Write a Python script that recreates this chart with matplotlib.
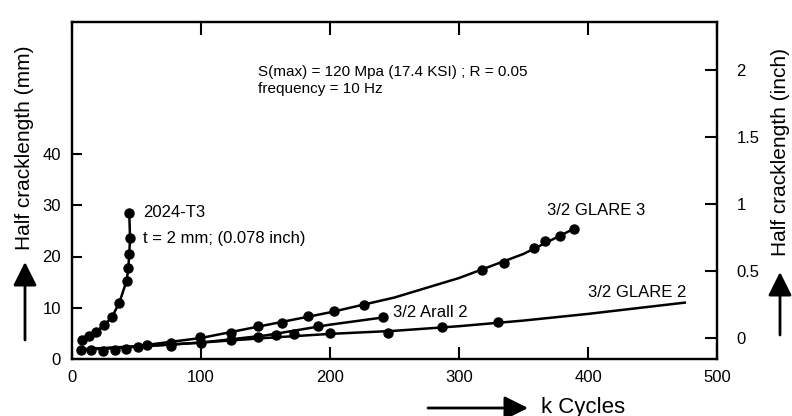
import numpy as np
import matplotlib
matplotlib.use("Agg")
import matplotlib.pyplot as plt

# measured points (k cycles, half crack length mm)
t3_x = [7.5, 13.4, 18.6, 24.8, 30.8, 36.7, 42.4, 43.6, 44.4, 45.0, 44.4]
t3_y = [3.7, 4.5, 5.3, 6.6, 8.1, 11.0, 15.3, 17.7, 20.5, 23.6, 28.4]

g3_x = [7, 15, 24, 33, 42, 51, 58, 77, 99, 123, 144, 163, 183, 203, 226, 318, 335, 358, 367, 378, 389]
g3_y = [1.8, 1.8, 1.6, 1.8, 1.9, 2.4, 2.7, 3.2, 4.2, 5.1, 6.4, 7.1, 8.4, 9.4, 10.5, 17.4, 18.8, 21.7, 23.0, 24.0, 25.4]

ar_x = [77, 100, 123, 144, 158, 191, 241]
ar_y = [2.5, 3.1, 3.8, 4.2, 4.7, 6.4, 8.1]

g2_x = [172, 200, 245, 287, 330]
g2_y = [4.9, 5.0, 5.1, 6.3, 7.2]

# fitted curves as drawn in the picture
g3_cx = [7, 50, 100, 150, 200, 250, 300, 350, 389]
g3_cy = [1.9, 2.5, 4.1, 6.6, 9.1, 12.0, 15.8, 20.5, 25.4]
ar_cx = [7, 50, 100, 150, 200, 241]
ar_cy = [1.8, 2.4, 3.2, 4.6, 6.7, 8.1]
g2_cx = [7, 50, 100, 150, 200, 250, 300, 350, 400, 475]
g2_cy = [1.8, 2.4, 3.2, 4.1, 4.9, 5.5, 6.4, 7.5, 8.8, 11.0]

x_ticks = [0, 100, 200, 300, 400, 500]
mm_ticks = [0, 10, 20, 30, 40]
inch_ticks = [0, 0.5, 1, 1.5, 2]
inch_labels = ["0", "0.5", "1", "1.5", "2"]

narrow = ["Liberation Sans Narrow", "Liberation Sans", "DejaVu Sans"]
plt.rcParams["font.family"] = ["Liberation Sans", "DejaVu Sans"]

fig = plt.figure(figsize=(7.92, 4.16), dpi=100)
ax = fig.add_axes([72 / 792, 1 - 359 / 416, (717 - 72) / 792, (359 - 22) / 416])

ax.plot(g3_cx, g3_cy, color="k", lw=1.8)
ax.plot(ar_cx, ar_cy, color="k", lw=1.8)
ax.plot(g2_cx, g2_cy, color="k", lw=1.8)
ax.plot(t3_x, t3_y, color="k", lw=1.8)
for xs, ys in [(t3_x, t3_y), (g3_x, g3_y), (ar_x, ar_y), (g2_x, g2_y)]:
    ax.plot(xs, ys, "o", color="k", ms=6.5, ls="none")

ax.set_xlim(0, 500)
ax.set_ylim(0, (359 - 22) / 5.125)
ax.set_xticks(x_ticks)
ax.set_yticks(mm_ticks)
ax.tick_params(axis="x", direction="in", length=9, width=1.5, top=True, pad=8)
ax.tick_params(axis="y", direction="in", length=7, width=1.5, pad=8)
for lab in ax.get_xticklabels() + ax.get_yticklabels():
    lab.set_family(narrow)
    lab.set_fontsize(12)
for s in ax.spines.values():
    s.set_linewidth(1.6)

ax2 = ax.twinx()
ax2.set_ylim(-(359 - 338) / 134, (338 - 22) / 134)
ax2.set_yticks(inch_ticks)
ax2.set_yticklabels(inch_labels, family=narrow, fontsize=12)
ax2.tick_params(axis="y", direction="in", length=9, width=1.5, pad=14)
for s in ax2.spines.values():
    s.set_linewidth(1.6)

ax.text(144, 56, "S(max) = 120 Mpa (17.4 KSI) ; R = 0.05", family=narrow, fontsize=11, va="center")
ax.text(144, 52.7, "frequency = 10 Hz", family=narrow, fontsize=11, va="center")
ax.text(54.8, 28.5, "2024-T3", fontsize=12, va="center")
ax.text(54.8, 23.6, "t = 2 mm; (0.078 inch)", fontsize=12, va="center")
ax.text(368, 28.9, "3/2 GLARE 3", fontsize=12, va="center")
ax.text(249, 9.0, "3/2 Arall 2", fontsize=12, va="center")
ax.text(400, 12.9, "3/2 GLARE 2", fontsize=12, va="center")

arrow = dict(arrowstyle="-|>,head_length=0.6,head_width=0.3", lw=2, color="k",
             mutation_scale=24, shrinkA=0, shrinkB=0)
ax.annotate("", xy=(25, 416 - 262), xytext=(25, 416 - 340), xycoords="figure pixels",
            textcoords="figure pixels", arrowprops=arrow)
fig.text(25 / 792, (416 - 148) / 416, "Half cracklength (mm)", rotation=90, fontsize=15,
         ha="center", va="center")
ax.annotate("", xy=(780, 416 - 272), xytext=(780, 416 - 335), xycoords="figure pixels",
            textcoords="figure pixels", arrowprops=arrow)
fig.text(780 / 792, (416 - 152) / 416, "Half cracklength (inch)", rotation=90, fontsize=15,
         ha="center", va="center")
ax.annotate("", xy=(528, 8), xytext=(428, 8), xycoords="figure pixels",
            textcoords="figure pixels", arrowprops=arrow)
fig.text(541 / 792, 9 / 416, "k Cycles", fontsize=16, ha="left", va="center")

fig.savefig("out.png", dpi=100)
